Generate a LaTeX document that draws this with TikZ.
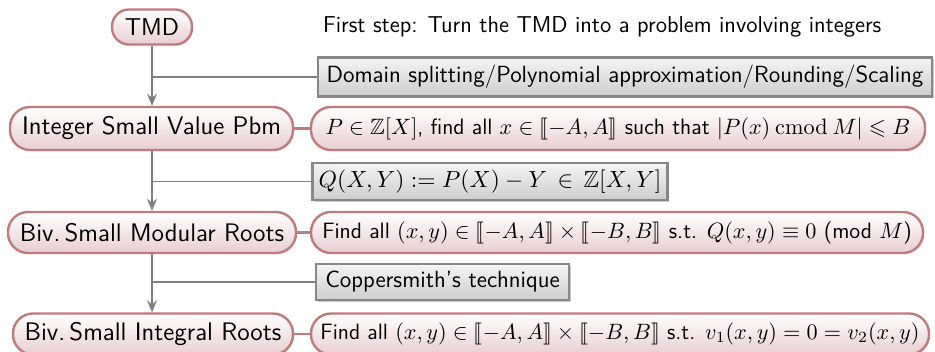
\documentclass[tikz,border=0pt]{standalone}
\usepackage{fix-cm}
\usepackage{amssymb,stmaryrd}
\usetikzlibrary{arrows.meta,shadows}
\definecolor{roseb}{RGB}{192,124,124}
\definecolor{rosef}{RGB}{232,206,210}
\definecolor{grayb}{RGB}{135,135,135}
\definecolor{grayf}{RGB}{205,205,205}
\definecolor{conn}{RGB}{128,128,128}
\tikzset{
  pill/.style={draw=roseb, line width=1.2pt, rectangle, rounded corners=10pt, top color=white, bottom color=rosef,
    inner xsep=4pt, inner ysep=0pt,
    drop shadow={shadow xshift=0.6pt, shadow yshift=-0.6pt, fill=black, opacity=0.12}},
  leftfont/.style={font=\fontsize{12.7}{15}\selectfont\sffamily},
  rightfont/.style={font=\fontsize{11.1}{13}\selectfont\sffamily},
  gbox/.style={draw=grayb, line width=1.3pt, rectangle, top color=white!96!black, bottom color=grayf,
    inner xsep=3pt, inner ysep=0pt, font=\fontsize{11.7}{14}\selectfont\sffamily,
    drop shadow={shadow xshift=1pt, shadow yshift=-1pt, fill=black, opacity=0.2}},
  flow/.style={draw=conn, line width=0.8pt, -{Stealth[length=6pt,width=5pt,inset=2pt]}},
  branch/.style={draw=conn, line width=0.8pt},
  link/.style={draw=roseb, line width=1.2pt},
}
\begin{document}
\begin{tikzpicture}[x=0.5pt,y=-0.5pt]
\useasboundingbox (0,0) rectangle (935,352);
\node[pill, rounded corners=8.5pt, font=\fontsize{12.2}{14}\selectfont\sffamily, minimum width=40pt, minimum height=17.5pt] (tmd) at (152,27) {TMD};
\node[anchor=west, font=\fontsize{11.5}{14}\selectfont\sffamily] (first) at (316,27) {First step: Turn the TMD into a problem involving integers};

\node[gbox, minimum width=307pt, minimum height=19.5pt] (g1) at (625,77) {Domain splitting/Polynomial approximation/Rounding/Scaling};
\node[pill, leftfont, minimum width=141.5pt, minimum height=21.5pt] (l1) at (151.5,128.5) {Integer Small Value Pbm};
\node[pill, rightfont, minimum width=307pt, minimum height=21.5pt] (r1) at (618,128.5) {$P\in\mathbb{Z}[X]$, find all $x\in\llbracket -A,A\rrbracket$ such that $|P(x)\mathbin{\mathrm{cmod}}M|\leqslant B$};

\node[gbox, minimum width=174pt, minimum height=18.5pt] (g2) at (490,181.5) {$Q(X,Y):=P(X)-Y\,\in\,\mathbb{Z}[X,Y]$};
\node[pill, leftfont, minimum width=144pt, minimum height=20.5pt] (l2) at (152,232.5) {Biv.\,Small Modular Roots};
\node[pill, rightfont, minimum width=306pt, minimum height=20.5pt] (r2) at (617,232.5) {Find all $(x,y)\in\llbracket -A,A\rrbracket\times\llbracket -B,B\rrbracket$ s.t. $Q(x,y)\equiv 0$ (mod $M$)};

\node[gbox, minimum width=126.5pt, minimum height=18pt] (g3) at (442.5,282) {Coppersmith's technique};
\node[pill, leftfont, minimum width=140pt, minimum height=20.5pt] (l3) at (153,334) {Biv.\,Small Integral Roots};
\node[pill, rightfont, minimum width=309pt, minimum height=20.5pt] (r3) at (620,334) {Find all $(x,y)\in\llbracket -A,A\rrbracket\times\llbracket -B,B\rrbracket$ s.t. $v_1(x,y)=0=v_2(x,y)$};

\draw[flow] (tmd) -- (tmd |- l1.north);
\draw[flow] (tmd |- l1.south) -- (tmd |- l2.north);
\draw[flow] (tmd |- l2.south) -- (tmd |- l3.north);
\draw[branch] (tmd.south |- g1.west) -- (g1.west);
\draw[branch] (tmd.south |- g2.west) -- (g2.west);
\draw[branch] (tmd.south |- g3.west) -- (g3.west);
\draw[link] (l1) -- (r1);
\draw[link] (l2) -- (r2);
\draw[link] (l3) -- (r3);
\end{tikzpicture}
\end{document}
